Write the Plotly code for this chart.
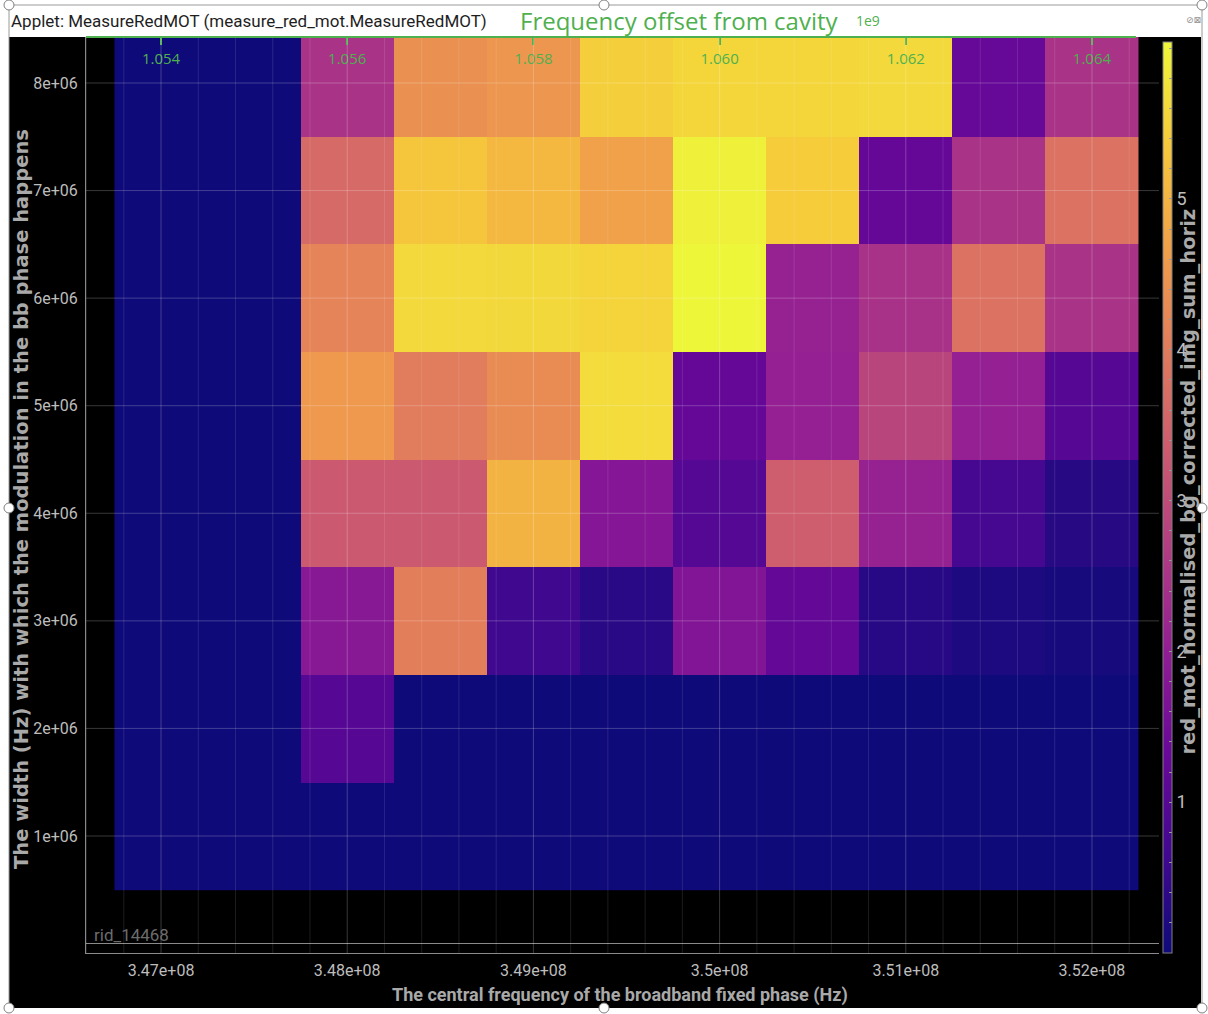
import numpy as np
import plotly.graph_objects as go
import plotly.colors as pc

# ---------------- data ----------------
central_freq_hz = [347.0e6, 347.5e6, 348.0e6, 348.5e6, 349.0e6, 349.5e6,
                   350.0e6, 350.5e6, 351.0e6, 351.5e6, 352.0e6]
mod_width_hz = [1e6, 2e6, 3e6, 4e6, 5e6, 6e6, 7e6, 8e6]

row_width_1e6 = [0.0, 0.0, 0.0, 0.0, 0.0, 0.0, 0.0, 0.0, 0.0, 0.0, 0.0]
row_width_2e6 = [0.0, 0.0, 1.0, 0.0, 0.0, 0.0, 0.0, 0.0, 0.0, 0.0, 0.0]
row_width_3e6 = [0.0, 0.0, 1.85, 4.05, 0.65, 0.35, 1.75, 1.22, 0.34, 0.2, 0.1]
row_width_4e6 = [0.0, 0.0, 3.3, 3.3, 5.0, 1.8, 0.98, 3.4, 2.1, 0.75, 0.32]
row_width_5e6 = [0.0, 0.0, 4.55, 4.0, 4.3, 5.65, 1.25, 2.05, 2.85, 2.05, 1.0]
row_width_6e6 = [0.0, 0.0, 4.15, 5.6, 5.58, 5.5, 6.04, 2.09, 2.45, 3.8, 2.5]
row_width_7e6 = [0.0, 0.0, 3.65, 5.3, 5.07, 4.7, 5.95, 5.4, 1.25, 2.5, 3.8]
row_width_8e6 = [0.0, 0.0, 2.5, 4.4, 4.5, 5.45, 5.55, 5.55, 5.6, 1.27, 2.5]

x_tickvals = [3.47e8, 3.48e8, 3.49e8, 3.50e8, 3.51e8, 3.52e8]
x_ticklabels = ["3.47e+08", "3.48e+08", "3.49e+08", "3.5e+08", "3.51e+08", "3.52e+08"]
y_tickvals = [0, 1e6, 2e6, 3e6, 4e6, 5e6, 6e6, 7e6, 8e6]
y_ticklabels = ["", "1e+06", "2e+06", "3e+06", "4e+06", "5e+06", "6e+06", "7e+06", "8e+06"]
top_tickvals = [1.054e9, 1.056e9, 1.058e9, 1.060e9, 1.062e9, 1.064e9]
top_ticklabels = ["1.054", "1.056", "1.058", "1.060", "1.062", "1.064"]
cbar_labelled = [1, 2, 3, 4, 5]

z = [row_width_1e6, row_width_2e6, row_width_3e6, row_width_4e6,
     row_width_5e6, row_width_6e6, row_width_7e6, row_width_8e6]

# ---------------- layout helpers ----------------
W, H = 1208, 1014
L, R, T, B = 86, 1159, 37, 953


def px(x):
    return (x - L) / (R - L)


def py(y):
    return (B - y) / (B - T)


x_range = [346.597e6, 352.360e6]
y_range = [-0.0877e6, 8.4276e6]
offset_scale, offset_const = 2.0, 360e6
top_range = [offset_scale * v + offset_const for v in x_range]

# slightly washed plasma, as in the screenshot
def washed(hexcol, k=0.13):
    r, g, b = pc.hex_to_rgb(hexcol)
    lum = 0.3 * r + 0.59 * g + 0.11 * b
    return "rgb(%d,%d,%d)" % tuple(round(c * (1 - k) + lum * k) for c in (r, g, b))


plasma = pc.sequential.Plasma
cscale = [[i / (len(plasma) - 1), washed(c)] for i, c in enumerate(plasma)]

GREEN = "#4fb04f"
NARROW = "Roboto, sans-serif"
BOLDW = "DejaVu Sans, Verdana, sans-serif"
TICKGRAY = "#bdbdbd"
TITLEGRAY = "#a9a9a9"

cb_tickvals = [round(v, 1) for v in np.arange(0, 6.01, 0.2)]
cb_ticktext = [str(int(round(v))) if abs(v - round(v)) < 1e-6 and int(round(v)) in cbar_labelled else ""
               for v in cb_tickvals]

fig = go.Figure()
fig.add_trace(go.Heatmap(
    x=central_freq_hz, y=mod_width_hz, z=z,
    colorscale=cscale, zmin=0, zmax=6.04,
    hoverinfo="skip",
    colorbar=dict(
        thickness=9, thicknessmode="pixels",
        len=(953 - 42) / (B - T), lenmode="fraction",
        x=px(1163), xanchor="left", xpad=0,
        y=py((42 + 953) / 2), yanchor="middle", ypad=0,
        outlinewidth=1, outlinecolor="#808080",
        tickmode="array", tickvals=cb_tickvals, ticktext=cb_ticktext,
        ticks="inside", ticklen=3, tickcolor="#9a9a9a",
        tickfont=dict(family=NARROW, size=18, color=TICKGRAY),
    ),
))
# invisible trace to carry the top axis
fig.add_trace(go.Scatter(x=top_tickvals, y=[None] * len(top_tickvals), xaxis="x2",
                         yaxis="y", mode="markers", showlegend=False, hoverinfo="skip"))

shapes = []
# black window body
shapes.append(dict(type="rect", xref="paper", yref="paper", x0=px(9), x1=px(1201),
                   y0=py(1008), y1=py(37), fillcolor="black", line_width=0, layer="below"))
# grid (drawn above the heatmap like the original)
x_minor = [v for v in np.arange(346.6e6, 352.4e6, 0.2e6) if min(abs(v - t) for t in x_tickvals) > 1e3]
for v in x_minor:
    shapes.append(dict(type="line", xref="x", yref="paper", x0=v, x1=v, y0=0, y1=1,
                       line=dict(color="rgba(255,255,255,0.11)", width=1), layer="above"))
for v in x_tickvals:
    shapes.append(dict(type="line", xref="x", yref="paper", x0=v, x1=v, y0=0, y1=1,
                       line=dict(color="rgba(255,255,255,0.22)", width=1), layer="above"))
for v in y_tickvals[1:]:
    shapes.append(dict(type="line", xref="paper", yref="y", x0=0, x1=1, y0=v, y1=v,
                       line=dict(color="rgba(255,255,255,0.22)", width=1), layer="above"))
# green top axis line
shapes.append(dict(type="line", xref="paper", yref="paper", x0=0, x1=px(1136), y0=1, y1=1,
                   line=dict(color=GREEN, width=2)))
# window frame
frame = "#9a9a9a"
shapes.append(dict(type="line", xref="paper", yref="paper", x0=px(9), x1=px(1202), y0=py(5), y1=py(5),
                   line=dict(color=frame, width=1)))
shapes.append(dict(type="line", xref="paper", yref="paper", x0=px(9), x1=px(9), y0=py(5), y1=py(1008),
                   line=dict(color=frame, width=1)))
shapes.append(dict(type="line", xref="paper", yref="paper", x0=px(1202), x1=px(1202), y0=py(5), y1=py(1008),
                   line=dict(color=frame, width=1)))
for hx, hy in [(9, 5), (604, 5), (1202, 5), (9, 508), (1202, 508), (9, 1008), (604, 1008), (1202, 1008)]:
    shapes.append(dict(type="circle", xref="paper", yref="paper",
                       x0=px(hx - 5), x1=px(hx + 5), y0=py(hy + 5), y1=py(hy - 5),
                       fillcolor="white", line=dict(color="#808080", width=1)))

annotations = [
    dict(text="Applet: MeasureRedMOT (measure_red_mot.MeasureRedMOT)", x=px(9), y=py(21),
         xref="paper", yref="paper", xanchor="left", yanchor="middle", showarrow=False,
         font=dict(family=NARROW, size=17, color="#1e1e1e")),
    dict(text="Frequency offset from cavity", x=px(679), y=py(21),
         xref="paper", yref="paper", xanchor="center", yanchor="middle", showarrow=False,
         font=dict(family="Open Sans, sans-serif", size=24, color=GREEN)),
    dict(text="1e9", x=px(854), y=py(21),
         xref="paper", yref="paper", xanchor="left", yanchor="middle", showarrow=False,
         font=dict(family="Open Sans, sans-serif", size=14, color=GREEN)),
    dict(text="⊘⊠", x=px(1193), y=py(20),
         xref="paper", yref="paper", xanchor="center", yanchor="middle", showarrow=False,
         font=dict(family="DejaVu Sans", size=9, color="#909090")),
    dict(text="The central frequency of the broadband fixed phase (Hz)", x=px(620), y=py(995),
         xref="paper", yref="paper", xanchor="center", yanchor="middle", showarrow=False,
         font=dict(family=NARROW, size=18, color=TITLEGRAY, weight="bold")),
    dict(text="The width (Hz) with which the modulation in the bb phase happens", x=px(21), y=py(499),
         xref="paper", yref="paper", xanchor="center", yanchor="middle", showarrow=False, textangle=-90,
         font=dict(family=BOLDW, size=19.5, color=TITLEGRAY, weight="bold")),
    dict(text="red_mot_normalised_bg_corrected_img_sum_horiz", x=px(1187.5), y=py(482),
         xref="paper", yref="paper", xanchor="center", yanchor="middle", showarrow=False, textangle=-90,
         font=dict(family=BOLDW, size=19.5, color=TITLEGRAY, weight="bold")),
    dict(text="rid_14468", x=px(92), y=py(935),
         xref="paper", yref="paper", xanchor="left", yanchor="middle", showarrow=False,
         font=dict(family=NARROW, size=17, color="#6c6c6c")),
]

fig.update_layout(
    width=W, height=H,
    margin=dict(l=L, r=W - R, t=T, b=H - B, pad=0),
    paper_bgcolor="white", plot_bgcolor="rgba(0,0,0,0)",
    showlegend=False, hovermode=False,
    shapes=shapes, annotations=annotations,
    xaxis=dict(range=x_range, tickmode="array", tickvals=x_tickvals, ticktext=x_ticklabels,
               showgrid=False, zeroline=False, showline=True, linecolor="#8a8a8a", linewidth=1,
               ticks="", ticklabelstandoff=3,
               tickfont=dict(family=NARROW, size=16, color=TICKGRAY)),
    xaxis2=dict(overlaying="x", side="top", anchor="y", range=top_range,
                tickmode="array", tickvals=top_tickvals, ticktext=top_ticklabels,
                ticks="inside", ticklen=8, tickwidth=2, tickcolor=GREEN,
                ticklabelposition="inside", ticklabelstandoff=8,
                showline=False, showgrid=False, zeroline=False,
                tickfont=dict(family="Open Sans, sans-serif", size=15, color=GREEN)),
    yaxis=dict(range=y_range, tickmode="array", tickvals=y_tickvals, ticktext=y_ticklabels,
               showgrid=False, zeroline=True, zerolinecolor="#8a8a8a", zerolinewidth=1,
               showline=True, linecolor="#8a8a8a", linewidth=1, ticks="", ticklabelstandoff=4,
               tickfont=dict(family=NARROW, size=16, color=TICKGRAY)),
)

fig.write_html("out.html", config={"displayModeBar": False},
               post_script="document.body.style.margin='0';")
